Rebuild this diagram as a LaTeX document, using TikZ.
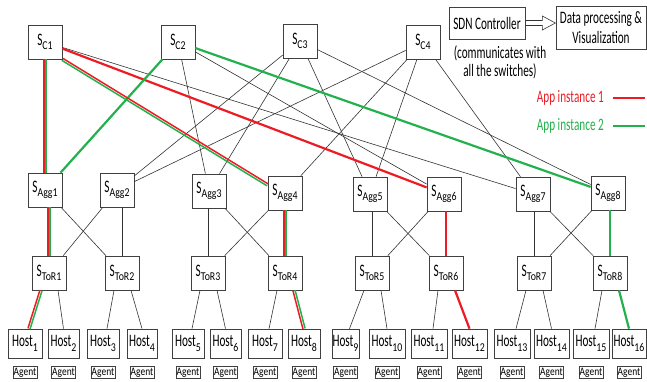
\documentclass[tikz,border=0pt]{standalone}
\usepackage{fontspec}
\setmainfont{Carlito}[FakeStretch=0.64]
\newfontfamily\subfont{Carlito}[FakeStretch=0.82]
\usetikzlibrary{calc}

\definecolor{appred}{RGB}{237,28,36}
\definecolor{appgreen}{RGB}{34,177,76}

% subscript of a switch or host label
\newcommand{\sub}[1]{\raisebox{-4.5pt}{\subfont\fontsize{12}{12}\selectfont #1}}
\newcommand{\sw}[1]{S\sub{#1}}

% red and green path side by side, red on side #3 (90 or 270)
\newcommand{\bothapps}[3]{%
  \path (#1) coordinate (from) (#2) coordinate (to);
  \draw[appone, line width=1.5pt] ($(from)!1.1pt!#3:(to)$) -- ($(to)!1.1pt!-#3:(from)$);
  \draw[apptwo, line width=1.5pt] ($(from)!1.1pt!-#3:(to)$) -- ($(to)!1.1pt!#3:(from)$);}

\begin{document}
\begin{tikzpicture}[x=1pt, y=-1pt,
    switch/.style={draw=black!75, line width=0.7pt, minimum width=34pt, minimum height=34pt,
      inner sep=0pt, font=\fontsize{17.5}{18}\selectfont},
    host/.style={draw=black!75, line width=0.7pt, minimum height=29pt, inner sep=0pt,
      font=\fontsize{17.5}{18}\selectfont},
    agent/.style={draw=black!75, line width=0.6pt, minimum width=24pt, minimum height=12pt,
      inner sep=0pt, font=\subfont\fontsize{11.5}{12}\selectfont},
    note/.style={font=\fontsize{17.5}{18}\selectfont, align=center, inner sep=0pt},
    link/.style={black!80, line width=0.6pt},
    appone/.style={appred, line width=2.2pt},
    apptwo/.style={appgreen, line width=2.2pt}]

	\useasboundingbox (0,0) rectangle (647,381);

	% core switches
	\node[switch] (C1) at (45,42) {\sw{C1}};
	\node[switch] (C2) at (178,42) {\sw{C2}};
	\node[switch] (C3) at (300,41) {\sw{C3}};
	\node[switch] (C4) at (423,42) {\sw{C4}};

	% aggregation switches
	\node[switch] (Agg1) at (45,190) {\sw{Agg1}};
	\node[switch] (Agg2) at (117,190) {\sw{Agg2}};
	\node[switch] (Agg3) at (209,191) {\sw{Agg3}};
	\node[switch] (Agg4) at (285,193) {\sw{Agg4}};
	\node[switch] (Agg5) at (370,194) {\sw{Agg5}};
	\node[switch] (Agg6) at (444,194) {\sw{Agg6}};
	\node[switch] (Agg7) at (533,194) {\sw{Agg7}};
	\node[switch] (Agg8) at (608,193) {\sw{Agg8}};

	% top of rack switches
	\node[switch] (ToR1) at (49,273) {\sw{ToR1}};
	\node[switch] (ToR2) at (122,273) {\sw{ToR2}};
	\node[switch] (ToR3) at (208,273) {\sw{ToR3}};
	\node[switch] (ToR4) at (285,273) {\sw{ToR4}};
	\node[switch] (ToR5) at (372,273) {\sw{ToR5}};
	\node[switch] (ToR6) at (446,273) {\sw{ToR6}};
	\node[switch] (ToR7) at (534,273) {\sw{ToR7}};
	\node[switch] (ToR8) at (610,273) {\sw{ToR8}};

	% hosts with their agents
	\foreach \x/\w [count=\i] in {25/34,63.5/31,103/32,142/30,188/32,225.5/31,265/34,304/32,
	    345.5/27,387/36,429/36,469.5/35,512/36,551.5/35,591/36,629/34} {
		\node[host, minimum width=\w pt] (H\i) at (\x,343.5) {Host\sub{\i}};
		\node[agent] (A\i) at (\x,372.5) {Agent};
	}

	% controller
	\node[draw=black!75, line width=0.7pt, minimum width=76pt, minimum height=32pt, inner sep=0pt,
	  font=\fontsize{17.5}{18}\selectfont] (SDN) at (487,23) {SDN Controller};
	\node[draw=black!75, line width=0.7pt, minimum width=90pt, minimum height=43pt, inner sep=0pt,
	  font=\fontsize{17.5}{20}\selectfont, align=center] (data) at (601,27.5) {Data processing \&\\Visualization};
	\draw[black!80, line width=0.6pt] ([yshift=2.5pt]SDN.east) -- ++(17,0) -- ++(0,-4.5) -- ++(13,7)
	  -- ++(-13,7) -- ++(0,-4.5) -- ++(-17,0);
	\node[note] (note) at (500,62) {(communicates with\\all the switches)};

	% legend
	\node[note, text=appred, anchor=east] (leg1) at (604,98) {App instance 1};
	\node[note, text=appgreen, anchor=east] (leg2) at (604,126) {App instance 2};
	\coordinate (leg1end) at (645,98);
	\coordinate (leg2end) at (645,126);
	\draw[appone] ([xshift=9pt]leg1.east) -- (leg1end);
	\draw[apptwo] ([xshift=9pt]leg2.east) -- (leg2end);

	% core to aggregation
	\draw[link] (C1) -- (Agg7);
	\draw[link] (C2) -- (Agg3);
	\draw[link] (C2) -- (Agg6);
	\draw[link] (C3) -- (Agg2);
	\draw[link] (C3) -- (Agg3);
	\draw[link] (C3) -- (Agg5);
	\draw[link] (C3) -- (Agg8);
	\draw[link] (C4) -- (Agg2);
	\draw[link] (C4) -- (Agg4);
	\draw[link] (C4) -- (Agg5);
	\draw[link] (C4) -- (Agg7);
	\draw[appone] (C1) -- (Agg6);
	\draw[apptwo] (C2) -- (Agg1);
	\draw[apptwo] (C2) -- (Agg8);
	\bothapps{C1.south}{Agg1.north}{270}
	\bothapps{C1.south east}{Agg4.155}{90}

	% aggregation to top of rack
	\foreach \a/\b in {1/2,3/4,5/6,7/8} {
		\draw[link] (Agg\a) -- (ToR\b);
		\draw[link] (Agg\b) -- (ToR\a);
	}
	\foreach \k in {2,3,5,7}
		\draw[link] (ToR\k.north |- Agg\k.south) -- (ToR\k.north);
	\bothapps{ToR1.north |- Agg1.south}{ToR1.north}{270}
	\bothapps{ToR4.north |- Agg4.south}{ToR4.north}{270}
	\draw[appone] (ToR6.north |- Agg6.south) -- (ToR6.north);
	\draw[apptwo] (ToR8.north |- Agg8.south) -- (ToR8.north);

	% top of rack to hosts
	\foreach \t/\h in {2/3,3/5,4/7,5/9,6/11,7/13,8/15}
		\draw[link] ([xshift=-8pt]ToR\t.south) -- ([xshift=4pt]H\h.north);
	\foreach \t/\h in {1/2,2/4,3/6,5/10,7/14}
		\draw[link] ([xshift=9pt]ToR\t.south) -- (H\h.north);
	\bothapps{[xshift=-8pt]ToR1.south}{[xshift=4pt]H1.north}{270}
	\bothapps{[xshift=9pt]ToR4.south}{H8.north}{270}
	\draw[appone] ([xshift=9pt]ToR6.south) -- (H12.north);
	\draw[apptwo] ([xshift=9pt]ToR8.south) -- (H16.north);
\end{tikzpicture}
\end{document}
